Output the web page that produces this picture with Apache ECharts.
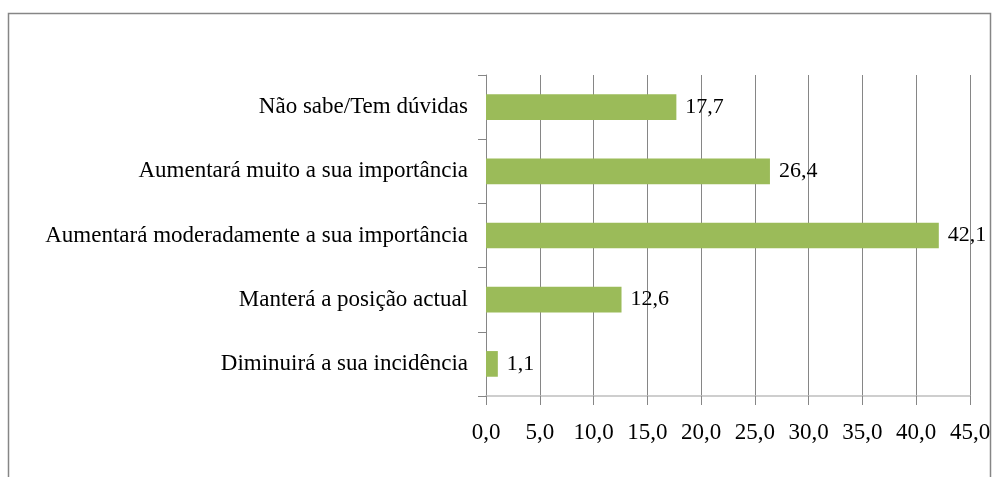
<!DOCTYPE html>
<html>
<head>
<meta charset="utf-8">
<script src="https://cdn.jsdelivr.net/npm/echarts@6/dist/echarts.min.js"></script>
<style>
  html, body { margin: 0; padding: 0; background: #fff; }
  #chart { width: 994px; height: 477px; }
</style>
</head>
<body>
<div id="chart"></div>
<script>
// categorias (de baixo para cima, como no eixo)
var categories = [
  'Diminuirá a sua incidência',
  'Manterá a posição actual',
  'Aumentará moderadamente a sua importância',
  'Aumentará muito a sua importância',
  'Não sabe/Tem dúvidas'
];
var values = [1.1, 12.6, 42.1, 26.4, 17.7];
var xMin = 0, xMax = 45, xStep = 5;

var fmt = function (v) { return Number(v).toFixed(1).replace('.', ','); };

var chart = echarts.init(document.getElementById('chart'));
var option = {
  animation: false,
  textStyle: { fontFamily: 'Liberation Serif', color: '#000' },
  graphic: [{   // moldura do gráfico
    type: 'rect',
    shape: { x: 8.5, y: 13.5, width: 982, height: 480 },
    style: { fill: 'none', stroke: '#868686', lineWidth: 1.5 },
    silent: true
  }],
  grid: { left: 486, right: 24, top: 75, bottom: 81 },
  xAxis: {
    type: 'value',
    min: xMin, max: xMax, interval: xStep,
    axisLine: { show: true, lineStyle: { color: '#bfbfbf', width: 1.5 } },
    axisTick: { show: true, length: 9, lineStyle: { color: '#868686' } },
    splitLine: { show: true, lineStyle: { color: '#868686', width: 1 } },
    axisLabel: {
      formatter: fmt, fontSize: 23, margin: 25, color: '#000',
      fontFamily: 'Liberation Serif'
    }
  },
  yAxis: {
    type: 'category',
    data: categories,
    axisLine: { show: true, lineStyle: { color: '#868686', width: 1 } },
    axisTick: { show: true, length: 8, lineStyle: { color: '#868686' } },
    axisLabel: { fontSize: 23, margin: 18, color: '#000', fontFamily: 'Liberation Serif' }
  },
  series: [{
    type: 'bar',
    data: values,
    barWidth: '40%',
    itemStyle: { color: '#9bbb59' },
    label: {
      show: true, position: 'right', distance: 9,
      formatter: function (p) { return fmt(p.value); },
      fontSize: 22, color: '#000', fontFamily: 'Liberation Serif'
    }
  }]
};
chart.setOption(option);
</script>
</body>
</html>
